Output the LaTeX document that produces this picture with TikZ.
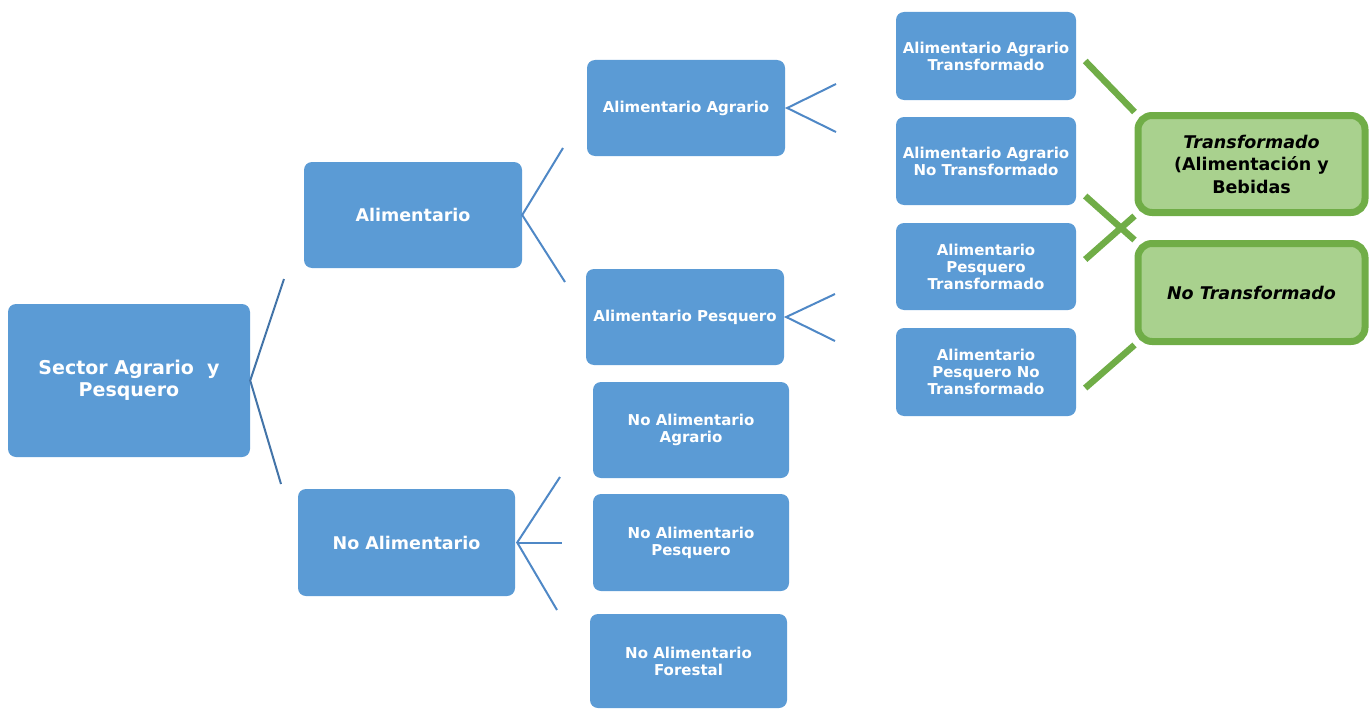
\documentclass[tikz,border=0pt]{standalone}
\usepackage{fontspec}
\setmainfont{DejaVu Sans}
\usetikzlibrary{calc}
\definecolor{boxblue}{HTML}{5B9BD5}
\definecolor{lineblue}{HTML}{4F88C6}
\definecolor{grnfill}{HTML}{A9D18E}
\definecolor{grnline}{HTML}{70AD47}
\tikzstyle{blk}=[fill=boxblue, rounded corners=8pt, text=white, align=center, inner sep=0pt, font=\bfseries\fontsize{15}{17}\selectfont]
\tikzstyle{grn}=[draw=grnline, line width=7pt, fill=grnfill, rounded corners=14pt, text=black, align=center, inner sep=0pt, minimum width=227pt, font=\bfseries\fontsize{17.5}{22.5}\selectfont]
\tikzstyle{bline}=[draw=lineblue, line width=2pt]
\tikzstyle{gline}=[draw=grnline, line width=6.5pt]

\begin{document}
\begin{tikzpicture}[x=1pt,y=-1pt]
      \useasboundingbox (0,0) rectangle (1371,709);
      % level 0 and 1
      \node [blk, minimum width=242pt, minimum height=153pt, font=\bfseries\fontsize{19}{22}\selectfont] (root) at (129,380.5) {Sector Agrario~ y\\Pesquero};
      \node [blk, minimum width=218pt, minimum height=106pt, font=\bfseries\fontsize{17.5}{20}\selectfont] (alim) at (413,215) {Alimentario};
      \node [blk, minimum width=217pt, minimum height=107pt, font=\bfseries\fontsize{17.5}{20}\selectfont] (noalim) at (406.5,542.5) {No Alimentario};
      % level 2
      \node [blk, minimum width=198pt, minimum height=96pt] (aa) at (686,108) {Alimentario Agrario};
      \node [blk, minimum width=198pt, minimum height=96pt] (ap) at (685,317) {Alimentario Pesquero};
      \node [blk, minimum width=196pt, minimum height=96pt] (naa) at (691,430) {No Alimentario\\Agrario};
      \node [blk, minimum width=196pt, minimum height=97pt] (nap) at (691,542.5) {No Alimentario\\Pesquero};
      \node [blk, minimum width=197pt, minimum height=94pt] (naf) at (688.5,661) {No Alimentario\\Forestal};
      % level 3
      \node [blk, minimum width=180pt, minimum height=88pt] (aat) at (986,56) {Alimentario Agrario\\Transformado};
      \node [blk, minimum width=180pt, minimum height=88pt] (aant) at (986,161) {Alimentario Agrario\\No Transformado};
      \node [blk, minimum width=180pt, minimum height=87pt] (apt) at (986,266.5) {Alimentario\\Pesquero\\Transformado};
      \node [blk, minimum width=180pt, minimum height=88pt] (apnt) at (986,372) {Alimentario\\Pesquero No\\Transformado};
      % result boxes
      \node [grn, minimum height=97pt] (tr) at (1251.5,164) {\textit{Transformado}\\(Alimentación y\\Bebidas};
      \node [grn, minimum height=98pt] (ntr) at (1251.5,292.5) {\textit{No Transformado}};

      % blue fans
      \coordinate (r1) at (284,279);
      \coordinate (r2) at (281,484);
      \draw [bline, draw=lineblue!85!black] (r1) -- (root.east) -- (r2);
      \coordinate (a1) at (563,148);
      \coordinate (a2) at (565,282);
      \draw [bline] (a1) -- (alim.east) -- (a2);
      \coordinate (aa1) at (836,84);
      \coordinate (aa2) at (836,132);
      \draw [bline] (aa1) -- ($(aa.east)+(2,0)$) -- (aa2);
      \coordinate (ap1) at (835,294);
      \coordinate (ap2) at (835,341);
      \draw [bline] (ap1) -- ($(ap.east)+(2,0)$) -- (ap2);
      \coordinate (n1) at (560,477);
      \coordinate (n2) at (562,542.5);
      \coordinate (n3) at (557,610);
      \draw [bline] (n1) -- ($(noalim.east)+(2,0)$) -- (n3);
      \draw [bline] ($(noalim.east)+(2,0)$) -- (n2);

      % green links
      \draw [gline] ($(aat.east)+(9,5)$) -- (tr.north west);
      \draw [gline] ($(aant.east)+(9,35)$) -- (ntr.north west);
      \draw [gline] ($(apt.east)+(9,-7)$) -- (tr.south west);
      \draw [gline] ($(apnt.east)+(9,16)$) -- (ntr.south west);
\end{tikzpicture}
\end{document}
